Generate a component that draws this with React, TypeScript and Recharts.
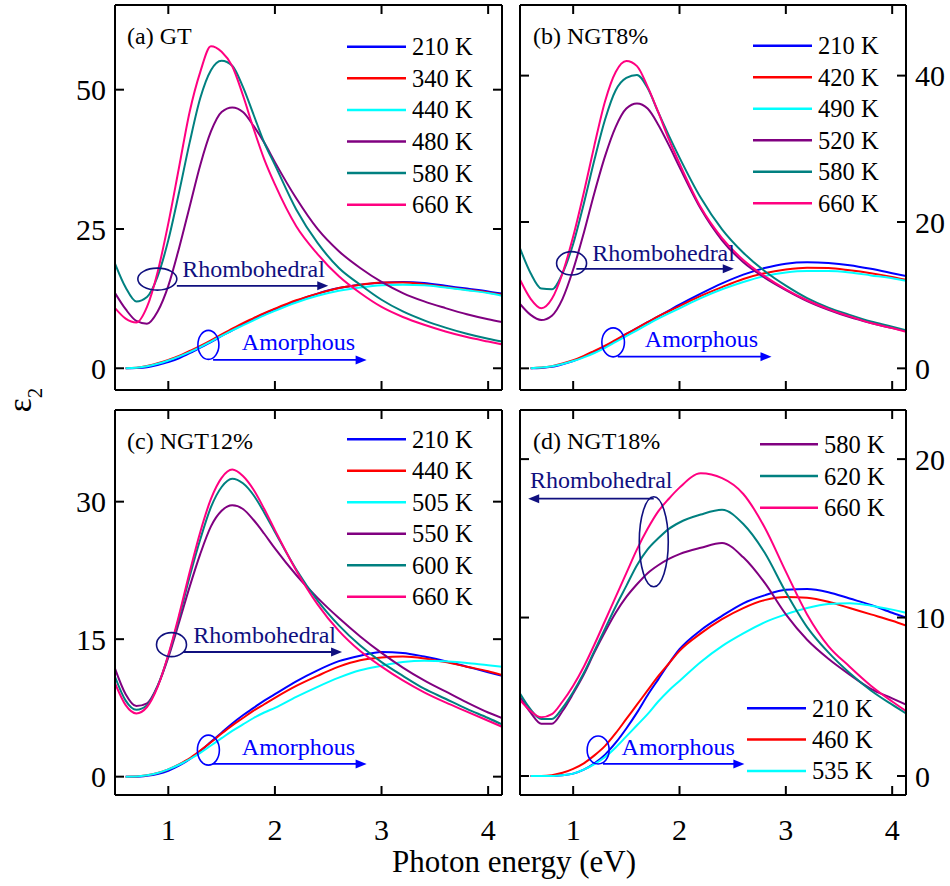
import React from "react";
import { LineChart, Line, XAxis, YAxis, ReferenceLine, ReferenceDot } from "recharts";

// photon energy grid (eV), shared by every curve
const ENERGY = [0.5, 0.6, 0.7, 0.8, 0.9, 1.0, 1.1, 1.2, 1.3, 1.4, 1.5, 1.6, 1.7, 1.8, 1.9, 2.0, 2.2, 2.4, 2.6, 2.8, 3.0, 3.2, 3.4, 3.6, 3.8, 4.0, 4.13];
const E_TICKS = [1, 2, 3, 4];
const X_DOMAIN = [0.5, 4.13];

// (a) GT
const GT_210 = [null, 0, 0.05, 0.2, 0.6, 1.1, 1.8, 2.7, 3.7, 4.7, 5.8, 6.8, 7.9, 8.9, 9.8, 10.6, 12.1, 13.4, 14.4, 15.0, 15.35, 15.5, 15.3, 14.8, 14.3, 13.8, 13.4];
const GT_340 = [null, 0, 0.1, 0.4, 0.9, 1.5, 2.2, 3.1, 4.0, 5.0, 6.1, 7.1, 8.1, 9.0, 9.9, 10.7, 12.2, 13.4, 14.4, 15.0, 15.4, 15.4, 15.1, 14.6, 14.1, 13.6, 13.2];
const GT_440 = [null, 0, 0.1, 0.35, 0.8, 1.4, 2.1, 2.9, 3.8, 4.8, 5.8, 6.8, 7.7, 8.6, 9.5, 10.3, 11.8, 13.0, 13.9, 14.5, 14.9, 15.0, 14.9, 14.5, 14.0, 13.5, 13.0];
const GT_480 = [13.5, 10.6, 8.5, 8.0, 10.2, 14.8, 21.5, 29, 36.5, 42.5, 46, 46.8, 46, 43.5, 40.5, 37, 30.5, 25, 21, 18, 15.5, 13.5, 12, 10.8, 9.7, 8.8, 8.3];
const GT_580 = [18.8, 14.5, 12, 12.8, 16.5, 23, 31.5, 40.5, 48.5, 53.5, 55.2, 54.3, 50.5, 45.5, 40.5, 36.5, 28.5, 22.5, 18, 15, 12.3, 10.2, 8.6, 7.3, 6.2, 5.3, 4.8];
const GT_660 = [10.8, 8.9, 8.2, 11.0, 17.3, 26, 36, 46, 53.2, 57.8, 56.8, 54.2, 49, 43, 37.5, 33, 25.5, 20.5, 16.5, 13.5, 11, 9.2, 7.8, 6.6, 5.6, 4.8, 4.3];
const GT_TICKS = [0, 25, 50];

// (b) NGT8%
const NGT8_210 = [null, 0, 0.05, 0.2, 0.55, 1.0, 1.6, 2.3, 3.0, 3.8, 4.7, 5.5, 6.3, 7.1, 7.9, 8.7, 10.2, 11.6, 12.8, 13.7, 14.3, 14.5, 14.4, 14.1, 13.6, 13.0, 12.6];
const NGT8_420 = [null, 0, 0.1, 0.3, 0.65, 1.1, 1.7, 2.4, 3.1, 3.9, 4.7, 5.5, 6.3, 7.1, 7.8, 8.5, 9.9, 11.1, 12.2, 13.0, 13.5, 13.75, 13.7, 13.4, 13.0, 12.5, 12.1];
const NGT8_490 = [null, 0, 0.1, 0.3, 0.6, 1.0, 1.5, 2.1, 2.8, 3.6, 4.4, 5.2, 6.0, 6.8, 7.5, 8.2, 9.6, 10.8, 11.8, 12.6, 13.1, 13.3, 13.3, 13.1, 12.7, 12.3, 11.95];
const NGT8_520 = [8.8, 7.3, 6.6, 7.2, 9.5, 13.5, 18.5, 24, 29, 33, 35.5, 36.2, 35.5, 33.3, 30.5, 27.5, 21.8, 17.5, 14.5, 12.4, 10.7, 9.2, 8.0, 7.0, 6.2, 5.5, 5.1];
const NGT8_580 = [16.4, 13, 10.9, 10.8, 13, 17, 22.5, 28.5, 34, 38, 39.7, 40.1, 38.3, 35, 31.8, 28.8, 23.3, 19, 15.8, 13.3, 11.3, 9.6, 8.3, 7.3, 6.4, 5.7, 5.2];
const NGT8_660 = [12.1, 9.5, 8.2, 9.5, 13, 18, 24, 30.5, 36.5, 40.5, 42, 41.3, 38.5, 35, 31.3, 28, 22, 17.8, 14.8, 12.6, 10.8, 9.3, 8.1, 7.1, 6.2, 5.5, 5.0];
const NGT8_TICKS = [0, 20, 40];

// (c) NGT12%
const NGT12_210 = [null, 0, 0, 0.1, 0.3, 0.65, 1.2, 1.9, 2.8, 3.8, 4.8, 5.8, 6.7, 7.5, 8.3, 9.0, 10.4, 11.6, 12.6, 13.2, 13.6, 13.5, 13.1, 12.6, 12.0, 11.4, 11.0];
const NGT12_440 = [null, 0, 0.02, 0.15, 0.4, 0.8, 1.35, 2.0, 2.85, 3.75, 4.7, 5.6, 6.4, 7.2, 7.9, 8.6, 9.9, 11.0, 12.0, 12.7, 13.0, 13.1, 12.9, 12.5, 12.0, 11.5, 11.1];
const NGT12_505 = [null, 0, 0.02, 0.15, 0.4, 0.8, 1.3, 1.9, 2.6, 3.4, 4.2, 5.0, 5.7, 6.4, 7.0, 7.5, 8.7, 9.8, 10.8, 11.6, 12.1, 12.5, 12.65, 12.6, 12.4, 12.15, 12.0];
const NGT12_550 = [11.8, 9.0, 7.7, 8.0, 9.9, 13.0, 16.8, 20.7, 24.3, 27.3, 29.0, 29.6, 29.2, 28.0, 26.5, 24.9, 22.0, 19.5, 17.3, 15.3, 13.5, 11.9, 10.5, 9.3, 8.1, 7.0, 6.4];
const NGT12_600 = [10.9, 8.3, 7.3, 7.8, 9.9, 13.2, 17.3, 21.8, 25.9, 29.4, 31.6, 32.5, 32.0, 30.7, 28.8, 26.7, 22.6, 19.2, 16.5, 14.3, 12.5, 11.0, 9.6, 8.5, 7.4, 6.4, 5.7];
const NGT12_660 = [10.2, 7.8, 6.9, 7.6, 9.8, 13.3, 17.6, 22.3, 26.7, 30.3, 32.6, 33.5, 32.8, 31.3, 29.2, 26.9, 22.5, 18.8, 15.9, 13.7, 12.0, 10.5, 9.2, 8.1, 7.1, 6.1, 5.45];
const NGT12_TICKS = [0, 15, 30];

// (d) NGT18%
const NGT18_210 = [null, 0, 0, 0, 0.05, 0.15, 0.4, 0.8, 1.35, 2.1, 3.0, 4.0, 5.1, 6.1, 7.1, 8.0, 9.2, 10.1, 10.9, 11.4, 11.75, 11.8, 11.6, 11.2, 10.8, 10.3, 10.0];
const NGT18_460 = [null, 0, 0, 0.05, 0.2, 0.45, 0.8, 1.3, 1.9, 2.7, 3.6, 4.5, 5.4, 6.3, 7.1, 7.9, 9.0, 9.9, 10.6, 11.1, 11.3, 11.25, 11.0, 10.6, 10.2, 9.8, 9.5];
const NGT18_535 = [null, 0, 0, 0, 0.05, 0.15, 0.4, 0.75, 1.2, 1.8, 2.5, 3.2, 3.9, 4.7, 5.4, 6.0, 7.2, 8.2, 9.0, 9.7, 10.2, 10.6, 10.85, 10.9, 10.75, 10.5, 10.3];
const NGT18_580 = [5.0, 4.0, 3.3, 3.3, 4.1, 5.2, 6.4, 7.8, 9.1, 10.3, 11.3, 12.1, 12.8, 13.3, 13.7, 14.0, 14.4, 14.7, 13.8, 12.2, 10.2, 8.6, 7.4, 6.4, 5.5, 4.9, 4.5];
const NGT18_620 = [5.2, 4.2, 3.6, 3.6, 4.3, 5.3, 6.5, 7.9, 9.3, 10.7, 12.0, 13.3, 14.3, 15.0, 15.6, 16.0, 16.5, 16.8, 15.9, 14.1, 11.6, 9.4, 7.8, 6.5, 5.4, 4.5, 3.95];
const NGT18_660 = [4.8, 4.1, 3.7, 3.9, 4.7, 5.7, 6.9, 8.3, 9.8, 11.3, 12.8, 14.3, 15.6, 16.7, 17.5, 18.2, 19.1, 18.8, 17.8, 15.7, 12.9, 10.2, 8.2, 6.9, 5.7, 4.7, 4.1];
const NGT18_TICKS = [0, 10, 20];

const BLUE = "#0000ff";
const RED = "#ff0000";
const CYAN = "#00ffff";
const PURPLE = "#800080";
const TEAL = "#008080";
const PINK = "#ff0080";
const NAVY = "#10107f";
const FONT = '"Liberation Serif", "Times New Roman", serif';

type Series = { name: string; color: string; values: (number | null)[] };

const GT_SERIES: Series[] = [
  { name: "210 K", color: BLUE, values: GT_210 },
  { name: "340 K", color: RED, values: GT_340 },
  { name: "440 K", color: CYAN, values: GT_440 },
  { name: "480 K", color: PURPLE, values: GT_480 },
  { name: "580 K", color: TEAL, values: GT_580 },
  { name: "660 K", color: PINK, values: GT_660 },
];
const NGT8_SERIES: Series[] = [
  { name: "210 K", color: BLUE, values: NGT8_210 },
  { name: "420 K", color: RED, values: NGT8_420 },
  { name: "490 K", color: CYAN, values: NGT8_490 },
  { name: "520 K", color: PURPLE, values: NGT8_520 },
  { name: "580 K", color: TEAL, values: NGT8_580 },
  { name: "660 K", color: PINK, values: NGT8_660 },
];
const NGT12_SERIES: Series[] = [
  { name: "210 K", color: BLUE, values: NGT12_210 },
  { name: "440 K", color: RED, values: NGT12_440 },
  { name: "505 K", color: CYAN, values: NGT12_505 },
  { name: "550 K", color: PURPLE, values: NGT12_550 },
  { name: "600 K", color: TEAL, values: NGT12_600 },
  { name: "660 K", color: PINK, values: NGT12_660 },
];
const NGT18_SERIES: Series[] = [
  { name: "210 K", color: BLUE, values: NGT18_210 },
  { name: "460 K", color: RED, values: NGT18_460 },
  { name: "535 K", color: CYAN, values: NGT18_535 },
  { name: "580 K", color: PURPLE, values: NGT18_580 },
  { name: "620 K", color: TEAL, values: NGT18_620 },
  { name: "660 K", color: PINK, values: NGT18_660 },
];

// annotation anchors in data units (text, ellipse centre, horizontal arrow)
type Note = { text: string; color: string; tx: number; ty: number; ex: number; ey: number; rx: number; ry: number; ay: number; a1: number; a2: number };

const GT_NOTES: Note[] = [
  { text: "Rhombohedral", color: NAVY, tx: 1.13, ty: 16.3, ex: 0.897, ey: 16.0, rx: 19.5, ry: 11, ay: 14.8, a1: 1.08, a2: 2.5 },
  { text: "Amorphous", color: BLUE, tx: 1.69, ty: 3.3, ex: 1.376, ey: 4.2, rx: 10.5, ry: 14.5, ay: 1.5, a1: 1.42, a2: 2.86 },
];
const NGT8_NOTES: Note[] = [
  { text: "Rhombohedral", color: NAVY, tx: 1.18, ty: 14.6, ex: 0.985, ey: 14.35, rx: 15, ry: 11.7, ay: 13.6, a1: 1.03, a2: 2.51 },
  { text: "Amorphous", color: BLUE, tx: 1.674, ty: 2.95, ex: 1.376, ey: 3.55, rx: 11.3, ry: 14.5, ay: 1.6, a1: 1.42, a2: 2.865 },
];
const NGT12_NOTES: Note[] = [
  { text: "Rhombohedral", color: NAVY, tx: 1.235, ty: 14.55, ex: 1.03, ey: 14.4, rx: 15, ry: 12, ay: 13.6, a1: 1.14, a2: 2.63 },
  { text: "Amorphous", color: BLUE, tx: 1.69, ty: 2.37, ex: 1.376, ey: 2.9, rx: 11, ry: 15, ay: 1.39, a1: 1.42, a2: 2.86 },
];
const NGT18_NOTES: Note[] = [
  { text: "Rhombohedral", color: NAVY, tx: 0.593, ty: 18.15, ex: 1.758, ey: 14.78, rx: 14.5, ry: 45, ay: 17.5, a1: 1.758, a2: 0.577 },
  { text: "Amorphous", color: BLUE, tx: 1.455, ty: 1.32, ex: 1.235, ey: 1.64, rx: 11, ry: 14, ay: 0.76, a1: 1.28, a2: 2.61 },
];

// label axes take space: LEFT_W / RIGHT_W / BOTTOM_H are subtracted from the margins
const LEFT_W = 60;
const RIGHT_W = 40;
const BOTTOM_H = 50;

const PANELS = [
  { id: "a", left: 0, top: 0, width: 520, height: 400, margin: { top: 5, right: 18, bottom: 10, left: 115 - LEFT_W }, yDomain: [-3.9, 65.2], yTicks: GT_TICKS, side: "left", xLabels: false, series: GT_SERIES, notes: GT_NOTES },
  { id: "b", left: 510, top: 0, width: 440, height: 400, margin: { top: 5, right: 44 - RIGHT_W, bottom: 10, left: 10 }, yDomain: [-2.96, 49.65], yTicks: NGT8_TICKS, side: "right", xLabels: false, series: NGT8_SERIES, notes: NGT8_NOTES },
  { id: "c", left: 0, top: 400, width: 520, height: 460, margin: { top: 10, right: 18, bottom: 65 - BOTTOM_H, left: 115 - LEFT_W }, yDomain: [-2, 40], yTicks: NGT12_TICKS, side: "left", xLabels: true, series: NGT12_SERIES, notes: NGT12_NOTES },
  { id: "d", left: 510, top: 400, width: 440, height: 460, margin: { top: 10, right: 44 - RIGHT_W, bottom: 65 - BOTTOM_H, left: 10 }, yDomain: [-1.2, 23.1], yTicks: NGT18_TICKS, side: "right", xLabels: true, series: NGT18_SERIES, notes: NGT18_NOTES },
];

const TITLES = [
  { text: "(a) GT", x: 127, y: 44 },
  { text: "(b) NGT8%", x: 533, y: 44 },
  { text: "(c) NGT12%", x: 127, y: 449 },
  { text: "(d) NGT18%", x: 533, y: 449 },
];

const LEGENDS = [
  { series: GT_SERIES, x: 347, y: 46.7, len: 59, step: 31.6 },
  { series: NGT8_SERIES, x: 753, y: 45.7, len: 59, step: 31.5 },
  { series: NGT12_SERIES, x: 347, y: 439.3, len: 59, step: 31.5 },
  { series: NGT18_SERIES.slice(3), x: 760, y: 444.3, len: 58, step: 31.7 },
  { series: NGT18_SERIES.slice(0, 3), x: 747, y: 708.3, len: 59, step: 31.3 },
];

const FRAME = { stroke: "#000", strokeWidth: 2 };
const TICK_TEXT = { fill: "#000", fontSize: 30, fontFamily: FONT };
const noLabel = () => <g />;

const arrow = (color: string) => (props: any) => {
  const { x1, y1, x2, y2 } = props;
  const len = Math.hypot(x2 - x1, y2 - y1) || 1;
  const ux = (x2 - x1) / len;
  const uy = (y2 - y1) / len;
  const hx = x2 - ux * 11;
  const hy = y2 - uy * 11;
  return (
    <g>
      <line x1={x1} y1={y1} x2={x2 - ux * 6} y2={y2 - uy * 6} stroke={color} strokeWidth={1.8} />
      <polygon points={`${x2},${y2} ${hx - uy * 4.5},${hy + ux * 4.5} ${hx + uy * 4.5},${hy - ux * 4.5}`} fill={color} />
    </g>
  );
};

function Panel({ p }: { p: (typeof PANELS)[number] }) {
  const rows = ENERGY.map((e, i) => {
    const row: Record<string, number | null> = { e };
    p.series.forEach((s, k) => {
      row[`s${k}`] = s.values[i];
    });
    return row;
  });
  const side = p.side as "left" | "right";

  return (
    <div style={{ position: "absolute", left: p.left, top: p.top }}>
      <LineChart width={p.width} height={p.height} data={rows} margin={p.margin}>
        {/* inward ticks on all four sides form the frame (mirrored axes take no space) */}
        <XAxis xAxisId="xb" dataKey="e" type="number" domain={X_DOMAIN} ticks={E_TICKS} interval={0} allowDataOverflow orientation="bottom" mirror height={20} tick={noLabel} tickSize={9} stroke="#000" axisLine={FRAME} tickLine={FRAME} />
        <XAxis xAxisId="xt" dataKey="e" type="number" domain={X_DOMAIN} ticks={E_TICKS} interval={0} allowDataOverflow orientation="top" mirror height={20} tick={noLabel} tickSize={9} stroke="#000" axisLine={FRAME} tickLine={FRAME} />
        {p.xLabels && (
          <XAxis xAxisId="xl" dataKey="e" type="number" domain={X_DOMAIN} ticks={E_TICKS} interval={0} allowDataOverflow orientation="bottom" height={BOTTOM_H} axisLine={false} tickLine={false} tickSize={0} tickMargin={24} tick={TICK_TEXT} />
        )}
        <YAxis yAxisId="yl" type="number" domain={p.yDomain} ticks={p.yTicks} interval={0} allowDataOverflow orientation="left" mirror width={20} tick={noLabel} tickSize={9} stroke="#000" axisLine={FRAME} tickLine={FRAME} />
        <YAxis yAxisId="yr" type="number" domain={p.yDomain} ticks={p.yTicks} interval={0} allowDataOverflow orientation="right" mirror width={20} tick={noLabel} tickSize={9} stroke="#000" axisLine={FRAME} tickLine={FRAME} />
        <YAxis yAxisId="ylab" type="number" domain={p.yDomain} ticks={p.yTicks} interval={0} allowDataOverflow orientation={side} width={side === "left" ? LEFT_W : RIGHT_W} axisLine={false} tickLine={false} tickSize={0} tickMargin={9} tick={TICK_TEXT} />

        {p.series.map((s, k) => (
          <Line
            key={s.name}
            xAxisId="xb"
            yAxisId="yl"
            type="monotone"
            dataKey={`s${k}`}
            stroke={s.color}
            strokeWidth={2}
            dot={false}
            activeDot={false}
            isAnimationActive={false}
          />
        ))}

        {p.notes.map((n) => (
          <ReferenceLine
            key={`${n.text}-arrow`}
            xAxisId="xb"
            yAxisId="yl"
            segment={[{ x: n.a1, y: n.ay }, { x: n.a2, y: n.ay }]}
            ifOverflow="visible"
            shape={arrow(n.color)}
          />
        ))}
        {p.notes.map((n) => (
          <ReferenceDot
            key={`${n.text}-ring`}
            xAxisId="xb"
            yAxisId="yl"
            x={n.ex}
            y={n.ey}
            ifOverflow="visible"
            shape={(d: any) => <ellipse cx={d.cx} cy={d.cy} rx={n.rx} ry={n.ry} fill="none" stroke={n.color} strokeWidth={1.6} />}
          />
        ))}
        {p.notes.map((n) => (
          <ReferenceDot
            key={`${n.text}-label`}
            xAxisId="xb"
            yAxisId="yl"
            x={n.tx}
            y={n.ty}
            ifOverflow="visible"
            shape={(d: any) => (
              <text x={d.cx} y={d.cy} fill={n.color} fontSize={24} fontFamily={FONT}>
                {n.text}
              </text>
            )}
          />
        ))}
      </LineChart>
    </div>
  );
}

export default function App() {
  return (
    <div style={{ position: "absolute", left: 0, top: 0, width: 950, height: 886, background: "#fff", fontFamily: FONT }}>
      {PANELS.map((p) => (
        <Panel key={p.id} p={p} />
      ))}
      <svg width={950} height={886} style={{ position: "absolute", left: 0, top: 0, pointerEvents: "none" }} fontFamily={FONT}>
        {TITLES.map((t) => (
          <text key={t.text} x={t.x} y={t.y} fontSize={24} fill="#000">
            {t.text}
          </text>
        ))}
        {LEGENDS.map((lg, li) =>
          lg.series.map((s, i) => {
            const cy = lg.y + i * lg.step;
            return (
              <g key={`${li}-${s.name}`}>
                <line x1={lg.x} x2={lg.x + lg.len} y1={cy} y2={cy} stroke={s.color} strokeWidth={2.5} />
                <text x={lg.x + lg.len + 6} y={cy + 8.5} fontSize={24.5} fill="#000">
                  {s.name}
                </text>
              </g>
            );
          })
        )}
        <text x={514} y={872} textAnchor="middle" fontSize={31} fill="#000">
          Photon energy (eV)
        </text>
        <text transform="translate(31, 400) rotate(-90)" textAnchor="middle" fontSize={33} fill="#000">
          ε<tspan dy={11} fontSize={21}>2</tspan>
        </text>
      </svg>
    </div>
  );
}
